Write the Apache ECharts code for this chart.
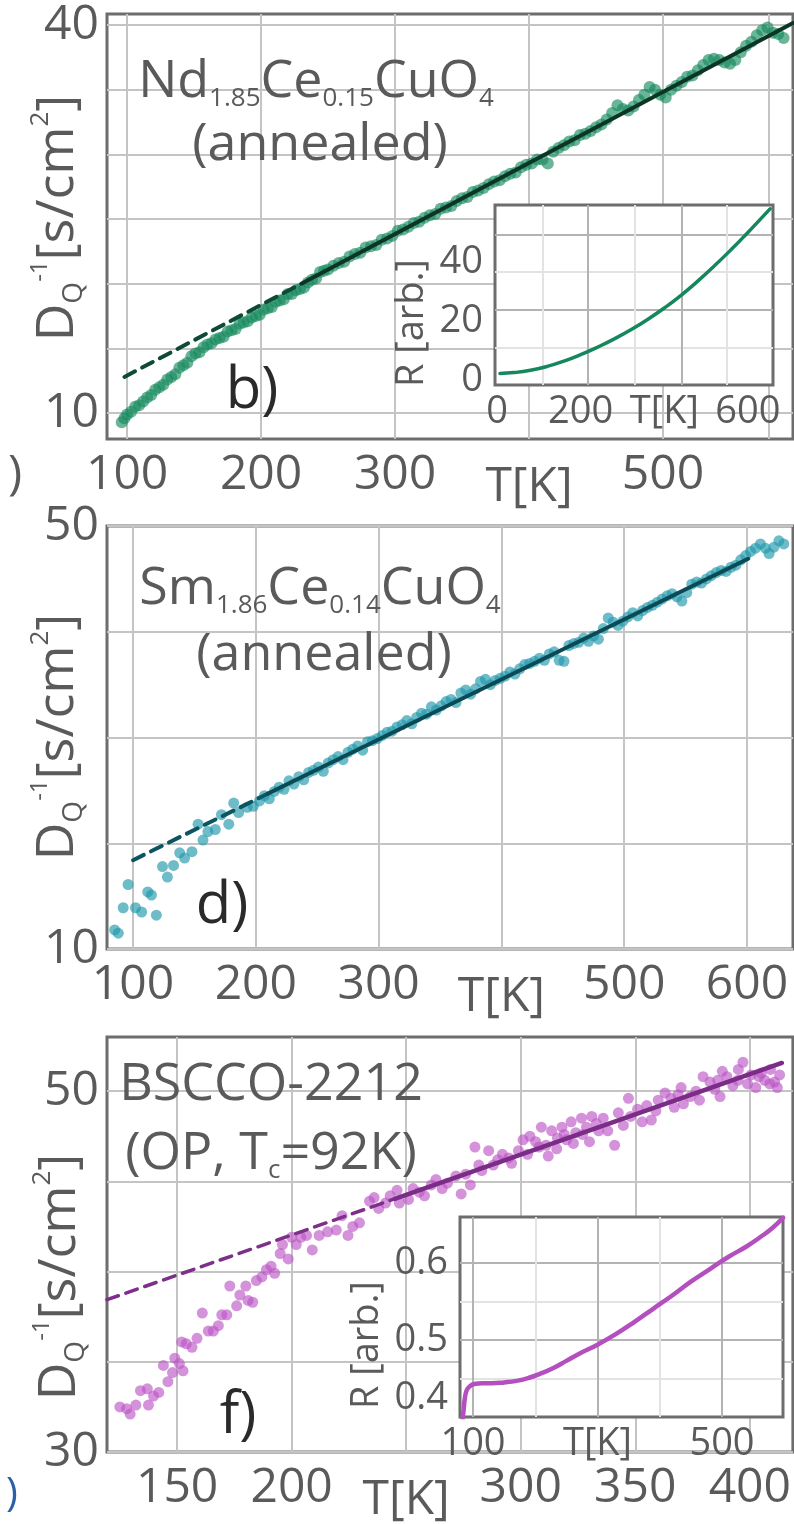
<!DOCTYPE html>
<html><head><meta charset="utf-8">
<script src="https://cdn.jsdelivr.net/npm/echarts@6/dist/echarts.min.js"></script>
<style>html,body{margin:0;padding:0;background:#fff}#c{width:794px;height:1524px}</style>
</head><body><div id="c"></div>
<script>
const FONT = '"Open Sans","Noto Sans",sans-serif';
const TXT = '#5a5a5a';
const GRIDC = '#c4c4c4';
const FRAME = '#6d6d6d';

// ---------- panel b : Nd1.85Ce0.15CuO4 ----------
const bPoints = [
[96,9.3],[98,9.6],[100,9.9],[103,10.1],[106,10.5],[109,10.6],[112,10.9],[115,11.2],[118,11.4],[121,11.8],
[124,12.0],[127,12.2],[130,12.6],[133,12.8],[136,13.0],[139,13.5],[142,13.7],[145,13.9],[148,14.4],[151,14.6],
[154,14.7],[157,15.1],[160,15.3],[163,15.4],[166,15.7],[169,15.8],[172,15.9],[175,16.3],[178,16.4],[181,16.5],
[184,16.9],[187,17.0],[190,17.1],[193,17.4],[196,17.5],[199,17.6],[202,18.0],[205,18.1],[208,18.2],[211,18.6],
[214,18.7],[217,18.8],[220,19.2],[223,19.2],[226,19.5],[229,19.6],[232,19.7],[235,20.1],[238,20.3],[241,20.4],
[244,20.9],[247,21.0],[250,21.1],[254,21.4],[258,21.6],[262,21.7],[266,22.1],[270,22.3],[274,22.4],[278,22.8],
[282,22.9],[286,23.0],[290,23.4],[294,23.5],[298,23.7],[302,24.1],[306,24.2],[310,24.4],[314,24.7],[318,24.8],
[322,25.1],[326,25.3],[330,25.4],[334,25.8],[338,25.9],[342,26.0],[346,26.4],[350,26.6],[354,26.7],[358,27.1],
[362,27.2],[366,27.4],[370,27.7],[374,27.9],[378,28.0],[382,28.3],[386,28.5],[390,28.6],[394,29.0],[398,29.2],
[402,29.3],[406,29.6],[410,29.6],[414,29.3],[418,30.2],[422,30.5],[426,30.7],[430,31.0],[434,31.1],[438,31.5],
[442,31.6],[446,31.8],[450,32.1],[454,32.3],[458,32.7],[462,33.2],[466,33.8],[470,33.5],[474,33.4],[478,33.7],
[482,34.2],[486,34.6],[490,35.2],[494,35.0],[498,34.6],[502,34.4],[506,35.0],[510,35.3],[514,35.6],[518,36.0],
[522,36.1],[526,36.5],[530,36.9],[534,37.3],[538,37.4],[542,37.3],[546,37.1],[550,37.0],[554,37.3],[558,37.9],
[562,38.4],[566,38.7],[570,39.2],[574,39.6],[578,39.8],[582,39.4],[586,39.3],[590,39.0]
];
const bFitDashed = [[98,12.8],[230,20.0]];
const bFitSolid = [[230,20.0],[597,40.15]];
const bInsetCurve = [
[7,2.2],[40,2.5],[80,3.3],[120,4.6],[160,6.4],[200,8.6],[240,11.1],[280,13.9],[320,17.0],[360,20.5],
[400,24.4],[440,28.7],[480,33.5],[520,38.7],[560,44.2],[600,50.0],[630,54.5],[653,58.0]
];
const bXGrid = [100,200,300,400,500,579];
const bXLabelVals = [100,200,300,400,500];
const bXLabelTxt = ['100','200','300','T[K]','500'];
const bYGrid = [10,15,20,25,30,35,40];
const bYLabelVals = [10,40];
const bInXGrid = [110,218,330,442,550];
const bInXLabelVals = [0,200,400,600];
const bInXLabelTxt = ['0','200','T[K]','600'];
const bInYGrid = [10.8,23.7,36.6,49.2];
const bInYLabelVals = [0,20,40];

// ---------- panel d : Sm1.86Ce0.14CuO4 ----------
const dPoints = [
[85,11.8],[88,11.5],[92,13.9],[96,16.1],[102,13.9],[107,13.5],[112,15.4],[115,15.1],[119,13.2],[124,17.8],
[128,16.8],[133,17.9],[138,19.1],[142,18.6],[148,19.2],[153,21.8],[157,20.3],[161,21.1],[167,21.3],[172,22.7],
[178,21.8],[182,23.8],[186,22.9],[193,23.4],[198,23.5],[203,24.0],[207,24.5],[211,24.2],[215,24.9],[219,25.3],
[223,25.1],[227,25.9],[231,25.6],[235,26.3],[239,26.0],[243,26.7],[247,26.9],[251,27.2],[255,26.8],[259,27.6],
[263,27.9],[267,28.2],[271,27.9],[275,28.6],[279,28.9],[283,29.2],[287,28.8],[291,29.6],[295,29.7],[299,29.9],
[303,30.2],[307,30.5],[311,30.6],[315,31.0],[319,31.2],[323,31.6],[327,31.3],[331,31.9],[335,32.3],[339,32.2],
[343,32.9],[347,32.6],[351,33.0],[355,33.4],[359,33.6],[363,33.3],[367,34.2],[371,34.5],[375,34.1],[379,34.6],
[383,35.3],[387,35.5],[391,35.0],[395,35.4],[399,35.6],[403,35.8],[407,36.2],[411,36.0],[415,36.5],[419,36.9],
[423,37.0],[427,37.2],[431,37.5],[435,37.3],[439,37.9],[443,38.1],[447,37.3],[451,37.2],[455,38.7],[459,38.9],
[463,39.0],[467,39.4],[471,39.1],[475,39.6],[479,39.3],[483,40.3],[487,41.3],[491,40.9],[495,40.6],[499,41.0],
[503,41.4],[507,41.8],[511,41.5],[515,42.0],[519,42.3],[523,42.5],[527,42.8],[531,43.1],[535,43.4],[539,43.6],
[543,43.3],[547,42.9],[551,43.7],[555,44.5],[559,44.7],[563,44.6],[567,45.0],[571,45.3],[575,45.6],[579,45.8],
[583,45.7],[587,46.1],[591,46.3],[595,46.8],[599,47.2],[603,47.6],[607,47.9],[611,48.3],[615,47.9],[618,47.4],
[622,48.0],[626,48.6],[630,48.3]
];
const dFitDashed = [[100,18.4],[210,24.7]];
const dFitSolid = [[210,24.7],[601,46.9]];
const dXGrid = [100,200,300,400,500,600];
const dXLabelVals = [100,200,300,400,500,600];
const dXLabelTxt = ['100','200','300','T[K]','500','600'];
const dYGrid = [10,20,30,40,50];
const dYLabelVals = [10,50];

// ---------- panel f : BSCCO-2212 ----------
const fPoints = [
[125,32.5],[128,32.4],[129.5,32.1],[132,32.6],[134,33.4],[137,33.5],[137.5,32.6],[139.7,33.1],[142,33.3],[144,34.8],
[146,33.9],[148,34.4],[149,35.2],[151,34.9],[152.6,34.5],[152,36.1],[154,36.0],[156.5,35.8],[158.7,36.3],[161,37.7],
[163.6,36.7],[165.8,36.7],[168,37.0],[169.5,37.6],[171.7,37.6],[173,39.2],[176,38.1],[177.4,38.7],[180,39.2],[181,38.4],
[183,38.3],[184.6,39.5],[187,39.7],[189,40.1],[191,40.3],[192.6,39.9],[195,41.0],[196,41.5],[198.5,40.7],[200,41.9],
[202,41.5],[204,41.9],[206.5,42.0],[209,41.2],[212,42.0],[215.7,42.2],[219.5,42.3],[222,43.1],[224.6,42.0],[226.7,42.5],
[229.6,42.7],[234,43.9],[236,44.1],[238,43.5],[241,43.8],[243,44.2],[246,44.5],[247,43.8],[251,44.0],[253,44.6],
[255.7,44.4],[258,44.2],[261,44.8],[263,45.1],[265.7,44.6],[268,44.9],[271.7,45.3],[274,44.3],[276,45.4],[278,44.8],
[280,46.9],[281.7,45.9],[283,45.6],[286,46.7],[288,45.9],[290,46.2],[292,46.5],[294.7,46.3],[296,46.0],[299,46.7],
[301,47.3],[303,46.5],[304,47.5],[306.5,47.2],[308,46.9],[309,48.0],[311,47.0],[312,46.4],[313.5,47.8],[315.7,46.8],
[316,47.4],[318,48.0],[319,47.6],[320,47.3],[322,48.3],[323,47.1],[324,47.7],[326.5,48.5],[327,47.6],[328.7,48.0],
[330,47.2],[331,48.6],[333,48.2],[334,47.8],[336,48.5],[338,47.8],[341,47.0],[342.6,48.8],[344.8,48.1],[347,49.6],
[348,48.6],[351,49.0],[353,48.3],[355,49.2],[357,48.4],[359,48.9],[360,49.5],[363,49.9],[365.6,49.6],[367,49.1],
[368.7,49.8],[370,50.2],[371,49.3],[374,49.7],[376.5,50.0],[378,49.5],[379.6,50.8],[382.6,50.5],[384.7,50.1],[386,50.6],
[387,49.7],[388,51.1],[390,50.8],[392.6,50.3],[394.8,50.6],[395,51.2],[397,51.6],[399,50.4],[400.5,50.9],[402.6,50.2],
[404,50.8],[405,51.0],[406.5,50.6],[408.7,50.4],[409,51.2],[410.8,50.5],[412,50.2],[413,50.9]
];
const fFitDashed = [[119.4,38.44],[245,44.03]];
const fFitSolid = [[245,44.03],[414,51.56]];
const fInsetCurve = [
[83,0.395],[85,0.41],[87,0.425],[90,0.435],[95,0.440],[102,0.443],[115,0.444],[130,0.444],[150,0.445],
[170,0.447],[190,0.451],[210,0.457],[230,0.464],[250,0.473],[270,0.482],[300,0.494],[330,0.508],[360,0.524],
[390,0.541],[420,0.558],[450,0.576],[480,0.592],[510,0.608],[540,0.622],[560,0.633],[580,0.645],[598,0.659]
];
const fXGrid = [150,200,250,300,350,400];
const fXLabelVals = [150,200,250,300,350,400];
const fXLabelTxt = ['150','200','T[K]','300','350','400'];
const fYGrid = [30,35,40,45,50];
const fYLabelVals = [30,50];
const fInXGrid = [100,200,300,400,500];
const fInXLabelVals = [100,300,500];
const fInXLabelTxt = ['100','T[K]','500'];
const fInYGrid = [0.45,0.5,0.55,0.6];
const fInYLabelVals = [0.4,0.5,0.6];

// ---------- helpers ----------
function fmt(vals, txts) {
  return function (v) {
    for (let i = 0; i < vals.length; i++) {
      if (Math.abs(vals[i] - v) < 1e-6) {
        return txts[i] === 'T[K]' ? '{t|T[K]}' : txts[i];
      }
    }
    return '';
  };
}
function xAxisCfg(gi, min, max, grid, labVals, labTxt, fs, margin, z, gridColors, tPad) {
  return {
    type: 'value', gridIndex: gi, min: min, max: max, z: z,
    axisLine: { show: false },
    axisTick: { show: false, customValues: grid },
    splitLine: { show: true, lineStyle: { color: gridColors || GRIDC, width: 2 } },
    axisLabel: {
      customValues: labVals, formatter: fmt(labVals, labTxt),
      fontSize: fs, color: TXT, fontFamily: FONT, margin: margin,
      rich: { t: { fontSize: fs, color: TXT, fontFamily: FONT, padding: [tPad, 0, 0, 0] } }
    }
  };
}
function yAxisCfg(gi, min, max, grid, labVals, fs, margin, z, gridColors, extra) {
  const a = {
    type: 'value', gridIndex: gi, min: min, max: max, z: z,
    axisLine: { show: false },
    axisTick: { show: false, customValues: grid },
    splitLine: { show: true, lineStyle: { color: gridColors || GRIDC, width: 2 } },
    axisLabel: {
      customValues: labVals, fontSize: fs, color: TXT, fontFamily: FONT, margin: margin,
      formatter: function (v) { return String(Math.round(v * 100) / 100); }
    }
  };
  if (extra) Object.assign(a.axisLabel, extra);
  return a;
}
const INSET_GRID = ['#e3e3e3', '#b3b3b3'];
const INSET_GRID2 = ['#b3b3b3', '#e3e3e3'];

const gridBase = { show: true, borderColor: FRAME, borderWidth: 3, backgroundColor: '#fff' };

function scatter(xi, data, color, size, z) {
  return { type: 'scatter', xAxisIndex: xi, yAxisIndex: xi, data: data, symbolSize: size,
    itemStyle: { color: color }, z: z, silent: true, animation: false };
}
function line(xi, data, color, width, dashed, z, smooth) {
  return { type: 'line', xAxisIndex: xi, yAxisIndex: xi, data: data, showSymbol: false, symbol: 'none',
    lineStyle: { color: color, width: width, type: dashed ? [12, 8] : 'solid', cap: 'round', join: 'round' },
    z: z, silent: true, animation: false, smooth: smooth ? 0.5 : false };
}

function richTxt(x, y, text, subDrop, align) {
  return { type: 'text', x: x, y: y, z: 100, silent: true,
    style: { text: text, align: align || 'center', verticalAlign: 'middle', fill: TXT, fontFamily: FONT, fontSize: 52,
      rich: {
        m: { fontSize: 52, lineHeight: 60, fontFamily: FONT, fill: TXT },
        s: { fontSize: 26, lineHeight: subDrop, verticalAlign: 'bottom', fontFamily: FONT, fill: TXT }
      } } };
}
function yName(x, y) {
  return { type: 'text', x: x, y: y, z: 100, rotation: Math.PI / 2, silent: true,
    style: { text: '{m|D}{s|Q}{p|-1}{m|[s/cm}{q|2}{m|]}', align: 'center', verticalAlign: 'middle', fill: TXT,
      fontFamily: FONT, fontSize: 52,
      rich: {
        m: { fontSize: 52, lineHeight: 60, fontFamily: FONT, fill: TXT },
        s: { fontSize: 28, lineHeight: 31, verticalAlign: 'bottom', fontFamily: FONT, fill: TXT },
        p: { fontSize: 24, lineHeight: 50, verticalAlign: 'top', fontFamily: FONT, fill: TXT },
        q: { fontSize: 26, lineHeight: 40, verticalAlign: 'top', fontFamily: FONT, fill: TXT }
      } } };
}
function plainTxt(x, y, text, fs, color, rot, align) {
  return { type: 'text', x: x, y: y, z: 100, rotation: rot || 0, silent: true,
    style: { text: text, align: align || 'center', verticalAlign: 'middle', fill: color, fontFamily: FONT, fontSize: fs } };
}

const option = {
  backgroundColor: '#fff',
  animation: false,
  grid: [
    Object.assign({ left: 107, top: 14, width: 686, height: 425, z: 0 }, gridBase),
    Object.assign({ left: 495, top: 205, width: 278, height: 180, z: 10 }, gridBase),
    Object.assign({ left: 107, top: 526, width: 686, height: 423, z: 0 }, gridBase),
    Object.assign({ left: 107, top: 1037, width: 686, height: 427, z: 0 }, gridBase),
    Object.assign({ left: 460, top: 1217, width: 323, height: 200, z: 10 }, gridBase)
  ],
  xAxis: [
    xAxisCfg(0, 85, 597, bXGrid, bXLabelVals, bXLabelTxt, 48, 12, 1, null, 12),
    xAxisCfg(1, -5, 660, bInXGrid, bInXLabelVals, bInXLabelTxt, 38, 8, 11, INSET_GRID, 0),
    xAxisCfg(2, 78.8, 637.5, dXGrid, dXLabelVals, dXLabelTxt, 48, 12, 1, null, 12),
    xAxisCfg(3, 119.4, 418.8, fXGrid, fXLabelVals, fXLabelTxt, 48, 12, 1, null, 12),
    xAxisCfg(4, 79.1, 598, fInXGrid, fInXLabelVals, fInXLabelTxt, 38, 8, 11, INSET_GRID2, 0)
  ],
  yAxis: [
    yAxisCfg(0, 8, 40.85, bYGrid, bYLabelVals, 48, 8, 1),
    yAxisCfg(1, -1.7, 59.3, bInYGrid, bInYLabelVals, 38, 12, 11, INSET_GRID),
    yAxisCfg(2, 10, 50, dYGrid, dYLabelVals, 48, 8, 1),
    yAxisCfg(3, 30, 53, fYGrid, fYLabelVals, 48, 8, 1),
    yAxisCfg(4, 0.4, 0.66, fInYGrid, fInYLabelVals, 38, 12, 11, INSET_GRID, { verticalAlignMinLabel: 'bottom' })
  ],
  series: [
    scatter(0, bPoints, 'rgba(22,138,94,0.8)', 12, 2),
    line(0, bFitDashed, '#0e4a35', 4, true, 3),
    line(0, bFitSolid, '#0c3526', 4, false, 3),
    line(1, bInsetCurve, '#14875c', 3.5, false, 12, true),
    scatter(2, dPoints, 'rgba(30,150,170,0.8)', 11, 2),
    line(2, dFitDashed, '#0b5561', 4, true, 3),
    line(2, dFitSolid, '#0a4a55', 4, false, 3),
    scatter(3, fPoints, 'rgba(188,84,198,0.8)', 11, 2),
    line(3, fFitDashed, '#7d2f8a', 3.5, true, 3),
    line(3, fFitSolid, '#7a2c87', 4.5, false, 3),
    line(4, fInsetCurve, '#b44fc0', 4.5, false, 12, true)
  ],
  graphic: [
    richTxt(316, 82, '{m|Nd}{s|1.85}{m|Ce}{s|0.15}{m|CuO}{s|4}', 6),
    plainTxt(320, 145, '(annealed)', 52, TXT),
    richTxt(320, 589, '{m|Sm}{s|1.86}{m|Ce}{s|0.14}{m|CuO}{s|4}', 6),
    plainTxt(324, 655, '(annealed)', 52, TXT),
    plainTxt(271, 1085, 'BSCCO-2212', 52, TXT),
    richTxt(271, 1154, '{m|(OP, T}{s|c}{m|=92K)}', 10),
    plainTxt(252, 391, 'b)', 58, '#2a2a2a'),
    plainTxt(222, 906, 'd)', 58, '#2a2a2a'),
    plainTxt(238, 1416, 'f)', 58, '#2a2a2a'),
    yName(58, 218),
    yName(58, 737),
    yName(60, 1277),
    plainTxt(412, 323, 'R [arb.]', 38, TXT, Math.PI / 2),
    plainTxt(367, 1345, 'R [arb.]', 38, TXT, Math.PI / 2),
    plainTxt(8, 475, ')', 48, TXT, 0, 'left'),
    plainTxt(6, 1495, ')', 40, '#2b5fa8', 0, 'left')
  ]
};
const chart = echarts.init(document.getElementById('c'), null, { renderer: 'canvas' });
chart.setOption(option);
</script></body></html>
